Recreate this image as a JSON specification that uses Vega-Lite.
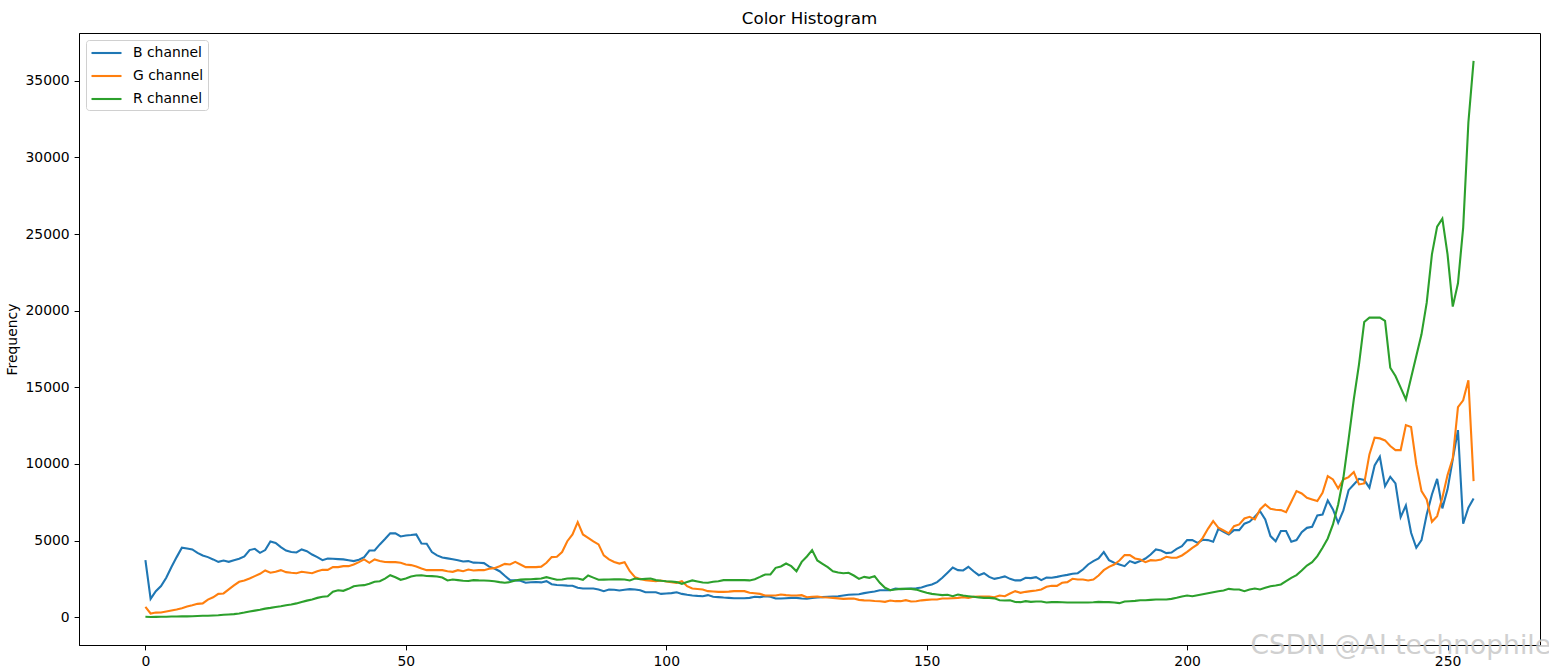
{
  "$schema": "https://vega.github.io/schema/vega-lite/v6.json",
  "width": 1461,
  "height": 612,
  "autosize": {"type": "none"},
  "padding": {"left": 79, "top": 33, "right": 9, "bottom": 26},
  "background": "white",
  "title": {"text": "Color Histogram", "fontSize": 16.7, "fontWeight": "normal", "font": "DejaVu Sans", "color": "black", "offset": -12, "baseline": "bottom", "anchor": "middle"},
  "config": {
    "font": "DejaVu Sans",
    "view": {"stroke": "black", "strokeWidth": 1},
    "axis": {"grid": false, "domainColor": "black", "tickColor": "black", "labelColor": "black", "labelFontSize": 13.9, "tickSize": 4.9, "labelPadding": 4.9, "labelFont": "DejaVu Sans", "titleFont": "DejaVu Sans", "titleFontWeight": "normal", "titleColor": "black", "titleFontSize": 13.9},
    "legend": {"orient": "top-left", "offset": 7, "padding": 4, "strokeColor": "#d0d0d0", "fillColor": "rgba(255,255,255,0.8)", "cornerRadius": 3, "symbolType": "M-1,0H3", "symbolSize": 225, "symbolStrokeWidth": 2.1, "labelFontSize": 13.9, "labelFont": "DejaVu Sans", "labelColor": "black", "labelOffset": 25, "rowPadding": 7, "title": null}
  },
  "data": {"values": [
{"i":0,"B":3720,"G":675,"R":30},{"i":1,"B":1200,"G":240,"R":15},{"i":2,"B":1700,"G":300,"R":20},{"i":3,"B":2030,"G":305,"R":25},{"i":4,"B":2570,"G":370,"R":30},{"i":5,"B":3270,"G":435,"R":40},{"i":6,"B":3920,"G":500,"R":45},{"i":7,"B":4530,"G":590,"R":50},{"i":8,"B":4480,"G":700,"R":55},{"i":9,"B":4420,"G":780,"R":60},
{"i":10,"B":4200,"G":870,"R":80},{"i":11,"B":4030,"G":900,"R":90},{"i":12,"B":3920,"G":1150,"R":95},{"i":13,"B":3770,"G":1300,"R":110},{"i":14,"B":3610,"G":1520,"R":130},{"i":15,"B":3700,"G":1550,"R":160},{"i":16,"B":3610,"G":1810,"R":180},{"i":17,"B":3720,"G":2070,"R":200},{"i":18,"B":3810,"G":2310,"R":240},{"i":19,"B":3960,"G":2390,"R":300},
{"i":20,"B":4380,"G":2520,"R":370},{"i":21,"B":4460,"G":2680,"R":430},{"i":22,"B":4200,"G":2830,"R":480},{"i":23,"B":4380,"G":3050,"R":560},{"i":24,"B":4940,"G":2900,"R":610},{"i":25,"B":4850,"G":2960,"R":670},{"i":26,"B":4570,"G":3070,"R":718},{"i":27,"B":4350,"G":2940,"R":780},{"i":28,"B":4250,"G":2900,"R":830},{"i":29,"B":4220,"G":2870,"R":900},
{"i":30,"B":4420,"G":2960,"R":990},{"i":31,"B":4310,"G":2920,"R":1080},{"i":32,"B":4090,"G":2870,"R":1160},{"i":33,"B":3920,"G":3000,"R":1260},{"i":34,"B":3720,"G":3090,"R":1330},{"i":35,"B":3830,"G":3090,"R":1371},{"i":36,"B":3810,"G":3270,"R":1660},{"i":37,"B":3790,"G":3270,"R":1760},{"i":38,"B":3770,"G":3330,"R":1720},{"i":39,"B":3720,"G":3330,"R":1850},
{"i":40,"B":3660,"G":3440,"R":2020},{"i":41,"B":3750,"G":3590,"R":2070},{"i":42,"B":3920,"G":3770,"R":2090},{"i":43,"B":4350,"G":3550,"R":2180},{"i":44,"B":4360,"G":3770,"R":2310},{"i":45,"B":4750,"G":3660,"R":2350},{"i":46,"B":5100,"G":3600,"R":2520},{"i":47,"B":5470,"G":3590,"R":2740},{"i":48,"B":5470,"G":3590,"R":2610},{"i":49,"B":5270,"G":3550,"R":2440},
{"i":50,"B":5330,"G":3440,"R":2520},{"i":51,"B":5360,"G":3400,"R":2660},{"i":52,"B":5400,"G":3310,"R":2720},{"i":53,"B":4810,"G":3180,"R":2740},{"i":54,"B":4790,"G":3070,"R":2690},{"i":55,"B":4250,"G":3070,"R":2680},{"i":56,"B":4030,"G":3070,"R":2660},{"i":57,"B":3900,"G":3070,"R":2590},{"i":58,"B":3840,"G":3000,"R":2400},{"i":59,"B":3780,"G":2960,"R":2460},
{"i":60,"B":3720,"G":3070,"R":2420},{"i":61,"B":3630,"G":3000,"R":2380},{"i":62,"B":3660,"G":3110,"R":2360},{"i":63,"B":3560,"G":3050,"R":2420},{"i":64,"B":3550,"G":3070,"R":2400},{"i":65,"B":3530,"G":3070,"R":2390},{"i":66,"B":3300,"G":3160,"R":2380},{"i":67,"B":3180,"G":3200,"R":2350},{"i":68,"B":3000,"G":3330,"R":2290},{"i":69,"B":2700,"G":3480,"R":2250},
{"i":70,"B":2420,"G":3440,"R":2290},{"i":71,"B":2400,"G":3610,"R":2400},{"i":72,"B":2380,"G":3440,"R":2450},{"i":73,"B":2250,"G":3270,"R":2470},{"i":74,"B":2280,"G":3270,"R":2480},{"i":75,"B":2300,"G":3270,"R":2500},{"i":76,"B":2270,"G":3300,"R":2520},{"i":77,"B":2350,"G":3550,"R":2610},{"i":78,"B":2150,"G":3920,"R":2530},{"i":79,"B":2100,"G":3940,"R":2440},
{"i":80,"B":2080,"G":4250,"R":2460},{"i":81,"B":2060,"G":4960,"R":2520},{"i":82,"B":2050,"G":5400,"R":2540},{"i":83,"B":1915,"G":6200,"R":2520},{"i":84,"B":1870,"G":5400,"R":2440},{"i":85,"B":1870,"G":5180,"R":2720},{"i":86,"B":1870,"G":4950,"R":2580},{"i":87,"B":1810,"G":4750,"R":2440},{"i":88,"B":1700,"G":4030,"R":2450},{"i":89,"B":1810,"G":3770,"R":2460},
{"i":90,"B":1790,"G":3600,"R":2470},{"i":91,"B":1740,"G":3500,"R":2480},{"i":92,"B":1790,"G":3590,"R":2460},{"i":93,"B":1830,"G":3000,"R":2400},{"i":94,"B":1810,"G":2610,"R":2520},{"i":95,"B":1760,"G":2500,"R":2480},{"i":96,"B":1630,"G":2420,"R":2500},{"i":97,"B":1630,"G":2380,"R":2520},{"i":98,"B":1630,"G":2350,"R":2420},{"i":99,"B":1520,"G":2390,"R":2380},
{"i":100,"B":1550,"G":2330,"R":2350},{"i":101,"B":1570,"G":2290,"R":2330},{"i":102,"B":1630,"G":2240,"R":2290},{"i":103,"B":1520,"G":2350,"R":2180},{"i":104,"B":1460,"G":2020,"R":2290},{"i":105,"B":1420,"G":1870,"R":2400},{"i":106,"B":1390,"G":1840,"R":2330},{"i":107,"B":1370,"G":1810,"R":2260},{"i":108,"B":1440,"G":1700,"R":2250},{"i":109,"B":1330,"G":1680,"R":2310},
{"i":110,"B":1310,"G":1650,"R":2350},{"i":111,"B":1280,"G":1650,"R":2420},{"i":112,"B":1260,"G":1670,"R":2430},{"i":113,"B":1240,"G":1700,"R":2420},{"i":114,"B":1240,"G":1700,"R":2420},{"i":115,"B":1240,"G":1700,"R":2420},{"i":116,"B":1260,"G":1590,"R":2400},{"i":117,"B":1330,"G":1560,"R":2480},{"i":118,"B":1310,"G":1520,"R":2630},{"i":119,"B":1370,"G":1420,"R":2790},
{"i":120,"B":1330,"G":1420,"R":2790},{"i":121,"B":1220,"G":1420,"R":3220},{"i":122,"B":1220,"G":1480,"R":3310},{"i":123,"B":1240,"G":1440,"R":3500},{"i":124,"B":1260,"G":1420,"R":3330},{"i":125,"B":1260,"G":1415,"R":3000},{"i":126,"B":1220,"G":1437,"R":3610},{"i":127,"B":1200,"G":1306,"R":3960},{"i":128,"B":1260,"G":1330,"R":4380},{"i":129,"B":1280,"G":1350,"R":3700},
{"i":130,"B":1310,"G":1306,"R":3480},{"i":131,"B":1330,"G":1280,"R":3270},{"i":132,"B":1350,"G":1262,"R":3000},{"i":133,"B":1370,"G":1230,"R":2920},{"i":134,"B":1420,"G":1197,"R":2870},{"i":135,"B":1460,"G":1210,"R":2900},{"i":136,"B":1480,"G":1219,"R":2720},{"i":137,"B":1500,"G":1132,"R":2500},{"i":138,"B":1570,"G":1100,"R":2630},{"i":139,"B":1630,"G":1088,"R":2570},
{"i":140,"B":1680,"G":1060,"R":2680},{"i":141,"B":1760,"G":1045,"R":2240},{"i":142,"B":1760,"G":1001,"R":1920},{"i":143,"B":1760,"G":1088,"R":1760},{"i":144,"B":1870,"G":1045,"R":1810},{"i":145,"B":1830,"G":1045,"R":1850},{"i":146,"B":1850,"G":1110,"R":1850},{"i":147,"B":1870,"G":1023,"R":1850},{"i":148,"B":1890,"G":1045,"R":1800},{"i":149,"B":1940,"G":1100,"R":1700},
{"i":150,"B":2050,"G":1130,"R":1600},{"i":151,"B":2130,"G":1154,"R":1520},{"i":152,"B":2290,"G":1154,"R":1480},{"i":153,"B":2570,"G":1219,"R":1440},{"i":154,"B":2900,"G":1219,"R":1460},{"i":155,"B":3240,"G":1240,"R":1370},{"i":156,"B":3070,"G":1262,"R":1480},{"i":157,"B":3050,"G":1306,"R":1415},{"i":158,"B":3290,"G":1262,"R":1370},{"i":159,"B":3000,"G":1328,"R":1330},
{"i":160,"B":2740,"G":1340,"R":1290},{"i":161,"B":2870,"G":1350,"R":1262},{"i":162,"B":2630,"G":1350,"R":1262},{"i":163,"B":2500,"G":1306,"R":1230},{"i":164,"B":2570,"G":1415,"R":1110},{"i":165,"B":2660,"G":1371,"R":1088},{"i":166,"B":2500,"G":1546,"R":1100},{"i":167,"B":2400,"G":1698,"R":990},{"i":168,"B":2400,"G":1589,"R":980},{"i":169,"B":2570,"G":1654,"R":1045},
{"i":170,"B":2550,"G":1698,"R":1001},{"i":171,"B":2610,"G":1741,"R":1023},{"i":172,"B":2420,"G":1807,"R":1023},{"i":173,"B":2590,"G":1981,"R":958},{"i":174,"B":2570,"G":2046,"R":980},{"i":175,"B":2630,"G":2046,"R":980},{"i":176,"B":2700,"G":2242,"R":970},{"i":177,"B":2760,"G":2286,"R":960},{"i":178,"B":2830,"G":2504,"R":960},{"i":179,"B":2870,"G":2460,"R":960},
{"i":180,"B":3110,"G":2460,"R":958},{"i":181,"B":3440,"G":2395,"R":958},{"i":182,"B":3660,"G":2460,"R":970},{"i":183,"B":3830,"G":2721,"R":1001},{"i":184,"B":4250,"G":3069,"R":980},{"i":185,"B":3720,"G":3286,"R":980},{"i":186,"B":3550,"G":3439,"R":960},{"i":187,"B":3440,"G":3700,"R":915},{"i":188,"B":3330,"G":4049,"R":1023},{"i":189,"B":3660,"G":4049,"R":1045},
{"i":190,"B":3530,"G":3831,"R":1067},{"i":191,"B":3660,"G":3766,"R":1110},{"i":192,"B":3830,"G":3592,"R":1110},{"i":193,"B":4090,"G":3722,"R":1130},{"i":194,"B":4420,"G":3700,"R":1154},{"i":195,"B":4350,"G":3766,"R":1154},{"i":196,"B":4180,"G":3940,"R":1154},{"i":197,"B":4220,"G":3875,"R":1197},{"i":198,"B":4460,"G":3875,"R":1262},{"i":199,"B":4640,"G":4027,"R":1350},
{"i":200,"B":5030,"G":4266,"R":1415},{"i":201,"B":5030,"G":4528,"R":1371},{"i":202,"B":4850,"G":4745,"R":1436},{"i":203,"B":5050,"G":5181,"R":1500},{"i":204,"B":5030,"G":5768,"R":1567},{"i":205,"B":4920,"G":6269,"R":1632},{"i":206,"B":5770,"G":5834,"R":1698},{"i":207,"B":5570,"G":5660,"R":1741},{"i":208,"B":5400,"G":5464,"R":1850},{"i":209,"B":5680,"G":5942,"R":1806},
{"i":210,"B":5680,"G":6051,"R":1806},{"i":211,"B":6100,"G":6443,"R":1698},{"i":212,"B":6230,"G":6550,"R":1806},{"i":213,"B":6550,"G":6378,"R":1872},{"i":214,"B":6920,"G":7030,"R":1806},{"i":215,"B":6380,"G":7357,"R":1915},{"i":216,"B":5290,"G":7074,"R":2024},{"i":217,"B":4960,"G":7009,"R":2068},{"i":218,"B":5620,"G":6987,"R":2133},{"i":219,"B":5620,"G":6857,"R":2351},
{"i":220,"B":4920,"G":7531,"R":2569},{"i":221,"B":5030,"G":8228,"R":2743},{"i":222,"B":5550,"G":8076,"R":3047},{"i":223,"B":5830,"G":7792,"R":3373},{"i":224,"B":5900,"G":7683,"R":3592},{"i":225,"B":6640,"G":7575,"R":3983},{"i":226,"B":6700,"G":8119,"R":4528},{"i":227,"B":7620,"G":9207,"R":5137},{"i":228,"B":7030,"G":8989,"R":6051},{"i":229,"B":6160,"G":8402,"R":7357},
{"i":230,"B":6970,"G":8989,"R":9098},{"i":231,"B":8290,"G":9142,"R":11601},{"i":232,"B":8660,"G":9469,"R":14213},{"i":233,"B":9030,"G":8663,"R":16500},{"i":234,"B":8950,"G":8728,"R":19263},{"i":235,"B":8450,"G":10622,"R":19546},{"i":236,"B":9900,"G":11710,"R":19546},{"i":237,"B":10470,"G":11667,"R":19546},{"i":238,"B":8550,"G":11536,"R":19329},{"i":239,"B":9160,"G":11166,"R":16280},
{"i":240,"B":8730,"G":10905,"R":15740},{"i":241,"B":6530,"G":10905,"R":14980},{"i":242,"B":7290,"G":12538,"R":14210},{"i":243,"B":5510,"G":12407,"R":15630},{"i":244,"B":4530,"G":9969,"R":17040},{"i":245,"B":5030,"G":8228,"R":18460},{"i":246,"B":6700,"G":7683,"R":20526},{"i":247,"B":8010,"G":6225,"R":23682},{"i":248,"B":9030,"G":6595,"R":25489},{"i":249,"B":7100,"G":7792,"R":26011},
{"i":250,"B":8340,"G":9273,"R":23682},{"i":251,"B":10300,"G":10361,"R":20265},{"i":252,"B":12210,"G":13713,"R":21788},{"i":253,"B":6100,"G":14148,"R":25423},{"i":254,"B":7140,"G":15455,"R":32280},{"i":255,"B":7750,"G":8881,"R":36307}
  ]},
  "layer": [
    {
      "transform": [{"fold": ["B", "G", "R"], "as": ["channel", "freq"]}],
      "mark": {"type": "line", "strokeWidth": 2.1, "clip": true},
      "encoding": {
        "x": {"field": "i", "type": "quantitative", "scale": {"domain": [-12.75, 267.75], "nice": false, "zero": false}, "axis": {"values": [0, 50, 100, 150, 200, 250], "title": null}},
        "y": {"field": "freq", "type": "quantitative", "scale": {"domain": [-1815, 38122], "nice": false, "zero": false}, "axis": {"values": [0, 5000, 10000, 15000, 20000, 25000, 30000, 35000], "title": "Frequency", "titlePadding": 6, "format": "d"}},
        "color": {"field": "channel", "type": "nominal", "scale": {"domain": ["B", "G", "R"], "range": ["#1f77b4", "#ff7f0e", "#2ca02c"]}, "legend": {"labelExpr": "datum.label + ' channel'"}}
      }
    },
    {
      "data": {"values": [{"label": "CSDN @AI technophile"}]},
      "mark": {"type": "text", "fontSize": 26.5, "color": "#c8c8c8", "opacity": 0.85, "align": "center", "baseline": "alphabetic", "font": "DejaVu Sans"},
      "encoding": {
        "x": {"datum": 241},
        "y": {"datum": -2416},
        "text": {"field": "label"}
      }
    }
  ]
}
